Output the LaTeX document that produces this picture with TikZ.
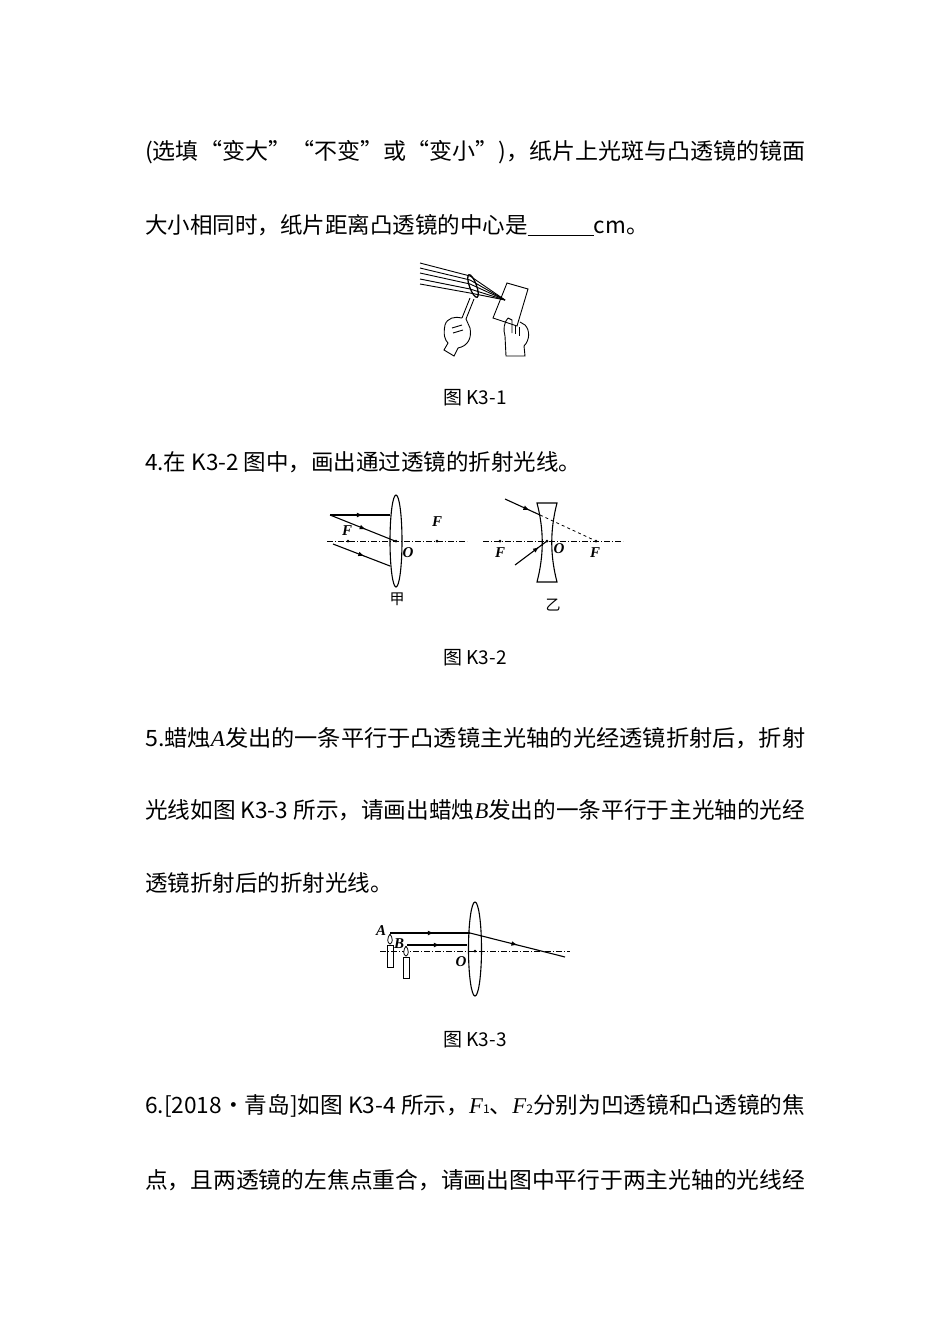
\documentclass[tikz,border=0pt]{standalone}
\usepackage{fontspec}
\usetikzlibrary{calc}
\setmainfont{Noto Sans CJK SC}
\newfontfamily\lab{Liberation Serif}
\newcommand{\fullline}[1]{\resizebox{660pt}{\height}{#1}}
\begin{document}
\begin{tikzpicture}[x=1pt,y=-1pt,
 txt/.style={anchor=west,inner sep=0pt,font=\fontsize{22.5}{22.5}\selectfont},
 figcap/.style={inner sep=0pt,font=\fontsize{19}{19}\selectfont},
 lb/.style={inner sep=0pt,font=\lab\itshape\bfseries\fontsize{15}{15}\selectfont},
 axis/.style={line width=0.7pt,dash pattern=on 6pt off 2pt on 1pt off 2pt},
 ray/.style={line width=1.1pt},
 lens/.style={line width=1.1pt},
 dot/.style={circle,fill,inner sep=0pt,minimum size=3pt}]
\useasboundingbox (0,0) rectangle (950,1344);
\fill[white] (0,0) rectangle (950,1344);
% text
\node[txt] (t1) at (145,152) {\fullline{(选填“变大”“不变”或“变小”)，纸片上光斑与凸透镜的镜面}};
\node[txt] (t2) at (145,225) {大小相同时，纸片距离凸透镜的中心是\underline{\hspace{66pt}}cm。};
\node[figcap] (c1) at (475,398) {图 K3-1};
\node[txt] (t3) at (145,462) {4.在 K3-2 图中，画出通过透镜的折射光线。};
\node[figcap] (c2) at (475,658) {图 K3-2};
\node[txt] (t4) at (145,738) {\fullline{5.蜡烛{\lab\itshape A}发出的一条平行于凸透镜主光轴的光经透镜折射后，折射}};
\node[txt] (t5) at (145,810) {\fullline{光线如图 K3-3 所示，请画出蜡烛{\lab\itshape B}发出的一条平行于主光轴的光经}};
\node[txt] (t6) at (145,883) {透镜折射后的折射光线。};
\node[figcap] (c3) at (475,1040) {图 K3-3};
\node[txt] (t7) at (145,1106) {\fullline{6.[2018·青岛]如图 K3-4 所示，{\lab\itshape F}{\fontsize{12}{12}\selectfont 1}、{\lab\itshape F}{\fontsize{12}{12}\selectfont 2}分别为凹透镜和凸透镜的焦}};
\node[txt] (t8) at (145,1180) {\fullline{点，且两透镜的左焦点重合，请画出图中平行于两主光轴的光线经}};
% ---- K3-1 illustration
\begin{scope}[line width=0.9pt]
\foreach \a/\b in {263/276,268/280,273/284,279/289,284/293}{
  \draw (420,\a) -- (470,\b) -- (505,300);}
\draw[line width=1.3pt,rotate around={20:(473,286)}] (473,286) ellipse (3.5 and 12);
\draw (470,298) -- (462,318) (474,299) -- (466,319);
\draw (507,283) -- (528,289) -- (517,326) -- (493,318) -- cycle;
% left hand
\draw (462,318) .. controls (455,316) and (447,318) .. (445,325) .. controls (443,335) and (445,340) .. (448,343)
  -- (444,350) -- (454,356) -- (458,348) .. controls (468,346) and (472,338) .. (470,328) -- (466,319);
\draw (452,328) -- (462,325) (453,333) -- (463,330);
% right hand
\draw (508,318) .. controls (504,322) and (503,330) .. (505,336) -- (506,356) -- (525,356) -- (524,346)
  .. controls (530,340) and (530,330) .. (525,325) -- (520,322) (508,318) -- (512,320) -- (512,333);
\draw (515,325) -- (515,334) (519,327) -- (519,336);
\end{scope}
% ---- K3-2 jia
\draw[axis] (327,541) -- (467,541);
\draw[lens] (396,541) ellipse (6 and 46);
\node[dot] (Fa) at (348,541) {};
\node[dot] (Fb) at (437,541) {};
\node[dot] (Oa) at (396,541) {};
\node[lb] at (347,531) {F};
\node[lb] at (437,522) {F};
\node[lb] at (408,553) {O};
\node[figcap,font=\fontsize{15}{15}\selectfont] (jia) at (397,599) {甲};
\begin{scope}[ray,->,>={latex}]
\coordinate (r1a) at (330,515); \coordinate (r1b) at (390,515);
\draw (r1a) -- ($(r1a)!0.55!(r1b)$); \draw[-] ($(r1a)!0.5!(r1b)$) -- (r1b);
\coordinate (r2b) at (395,541);
\draw (r1a) -- ($(r1a)!0.55!(r2b)$); \draw[-] ($(r1a)!0.5!(r2b)$) -- (r2b);
\coordinate (r3a) at (333,544); \coordinate (r3b) at (390,566);
\draw (r3a) -- ($(r3a)!0.55!(r3b)$); \draw[-] ($(r3a)!0.5!(r3b)$) -- (r3b);
\end{scope}
% ---- K3-2 yi
\draw[axis] (483,541) -- (623,541);
\draw[lens] (537,503) -- (557,503) .. controls (550,530) and (550,555) .. (557,582) -- (537,582)
  .. controls (544,555) and (544,530) .. (537,503) -- cycle;
\node[dot] (Fc) at (500,541) {};
\node[dot] (Fd) at (596,541) {};
\node[dot] (Ob) at (547,541) {};
\node[lb] at (500,553) {F};
\node[lb] at (559,549) {O};
\node[lb] at (595,553) {F};
\node[figcap,font=\fontsize{15}{15}\selectfont] (yi) at (553,605) {乙};
\begin{scope}[ray,->,>={latex}]
\coordinate (s1a) at (505,499); \coordinate (s1b) at (540,515);
\draw (s1a) -- ($(s1a)!0.7!(s1b)$); \draw[-] ($(s1a)!0.6!(s1b)$) -- (s1b);
\draw[-,dashed,line width=0.8pt] (s1b) -- (Fd);
\coordinate (s2a) at (515,565); \coordinate (s2b) at (547,541);
\draw (s2a) -- ($(s2a)!0.75!(s2b)$); \draw[-] ($(s2a)!0.6!(s2b)$) -- (s2b);
\end{scope}
% ---- K3-3
\draw[axis] (380,951) -- (570,951);
\draw[lens] (475,949) ellipse (6.5 and 47);
\node[dot] (Oc) at (475,951) {};
\draw[line width=0.8pt] (387,945) rectangle (393,967);
\draw[line width=0.8pt,fill=white] (390,934) .. controls (387,938) and (387,943) .. (390,944) .. controls (393,943) and (393,938) .. (390,934);
\draw[line width=0.8pt] (403,957) rectangle (409,978);
\draw[line width=0.8pt,fill=white] (406,946) .. controls (403,950) and (403,955) .. (406,956) .. controls (409,955) and (409,950) .. (406,946);
\node[lb] at (381,931) {A};
\node[lb] at (399,944) {B};
\node[lb] at (461,962) {O};
\begin{scope}[ray,->,>={latex}]
\coordinate (a1) at (390,933); \coordinate (a2) at (470,933); \coordinate (a3) at (565,957);
\draw (a1) -- ($(a1)!0.55!(a2)$); \draw[-] ($(a1)!0.5!(a2)$) -- (a2);
\draw (a2) -- ($(a2)!0.5!(a3)$); \draw[-] ($(a2)!0.45!(a3)$) -- (a3);
\coordinate (b1) at (407,945); \coordinate (b2) at (467,945);
\draw (b1) -- ($(b1)!0.55!(b2)$); \draw[-] ($(b1)!0.5!(b2)$) -- (b2);
\end{scope}
\end{tikzpicture}
\end{document}
